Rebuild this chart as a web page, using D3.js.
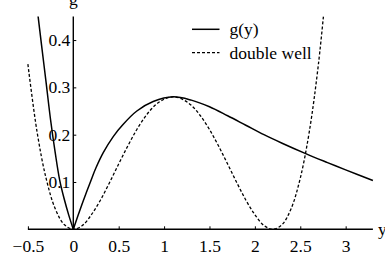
<!DOCTYPE html>
<html>
<head>
<meta charset="utf-8">
<script src="https://cdn.jsdelivr.net/npm/d3@7"></script>
<style>
  body { margin: 0; background: #fff; }
  text { font-family: "Liberation Serif", "Times New Roman", serif; font-size: 17.5px; fill: #000; }
</style>
</head>
<body>
<div class="chart-area"></div>
<script>
// g(y) (cusp at y = 0)
var gY = [-0.4, -0.35, -0.3, -0.25, -0.2, -0.15, -0.1, -0.05, 0,
          0.05, 0.1, 0.15, 0.2, 0.25, 0.33, 0.44, 0.55, 0.7, 0.88, 1.1,
          1.3, 1.5, 1.7, 1.9, 2.1, 2.3, 2.56, 2.8, 3.0, 3.3];
var gVal = [0.47, 0.39, 0.311, 0.231, 0.163, 0.104, 0.064, 0.03, 0,
            0.028, 0.055, 0.081, 0.106, 0.13, 0.162, 0.196, 0.222, 0.25, 0.27, 0.28,
            0.273, 0.259, 0.24, 0.22, 0.2, 0.182, 0.16, 0.141, 0.1255, 0.103];

// double well
var wellY = [-0.5, -0.4, -0.3, -0.2, -0.1, 0, 0.1, 0.2, 0.3, 0.4, 0.5, 0.6, 0.7, 0.8, 0.9, 1.0,
             1.1, 1.2, 1.3, 1.4, 1.5, 1.6, 1.7, 1.8, 1.9, 2.0, 2.1, 2.2, 2.3, 2.4, 2.5, 2.6, 2.7, 2.8];
var wellVal = [0.349, 0.207, 0.108, 0.044, 0.010, 0, 0.008, 0.031, 0.062, 0.099, 0.138, 0.176, 0.211, 0.240, 0.262, 0.275,
               0.280, 0.275, 0.262, 0.240, 0.211, 0.176, 0.138, 0.099, 0.062, 0.031, 0.008, 0, 0.010, 0.044, 0.108, 0.207, 0.349, 0.54];

var xTicks = [-0.5, 0, 0.5, 1, 1.5, 2, 2.5, 3],
    yTicks = [0.1, 0.2, 0.3, 0.4],
    legendLabels = ["g(y)", "double well"];

var width = 385,
    height = 263,
    x = d3.scaleLinear().domain([-0.5, 3.3]).range([27.9, 372.9]),
    y = d3.scaleLinear().domain([0, 0.45]).range([229.3, 16.4]),
    svg = d3.select(".chart-area")
            .append("svg")
            .attr("width", width)
            .attr("height", height);

svg.append("clipPath")
   .attr("id", "plot-clip")
   .append("rect")
   .attr("x", x(-0.5) - 2)
   .attr("y", y(0.45))
   .attr("width", x(3.3) - x(-0.5) + 4)
   .attr("height", y(0) - y(0.45) + 2);

var line = d3.line()
             .x(function(d) { return x(d[0]) })
             .y(function(d) { return y(d[1]) })
             .curve(d3.curveCatmullRom.alpha(0.5));

var gPts = gY.map(function(d, i) { return [d, gVal[i]] }),
    wellPts = wellY.map(function(d, i) { return [d, wellVal[i]] });

var plot = svg.append("g").attr("clip-path", "url(#plot-clip)");

// solid curve in two pieces so the cusp at 0 stays sharp
[gPts.filter(function(d) { return d[0] <= 0 }),
 gPts.filter(function(d) { return d[0] >= 0 })].forEach(function(pts) {
  plot.append("path")
      .attr("d", line(pts))
      .attr("fill", "none")
      .attr("stroke", "#000")
      .attr("stroke-width", 1.5);
});

plot.append("path")
    .attr("d", line(wellPts))
    .attr("fill", "none")
    .attr("stroke", "#000")
    .attr("stroke-width", 1.3)
    .attr("stroke-dasharray", "3,2");

// x axis
var xAxis = d3.axisBottom(x)
              .tickValues(xTicks)
              .tickSize(-3)
              .tickPadding(10)
              .tickFormat(function(d) { return d < 0 ? "\u2212" + Math.abs(d) : d });

var gx = svg.append("g")
            .attr("transform", "translate(0," + y(0) + ")")
            .call(xAxis);
gx.select(".domain").attr("d", "M" + x(-0.5) + ",0H" + x(3.3)).attr("stroke-width", 1.4);
gx.selectAll(".tick line").attr("stroke-width", 1);
gx.selectAll("text").attr("font-family", null).attr("font-size", null).attr("dy", "0.75em");

// y axis
var yAxis = d3.axisLeft(y)
              .tickValues(yTicks)
              .tickSize(-3)
              .tickPadding(3)
              .tickFormat(d3.format(".1f"));

var gy = svg.append("g")
            .attr("transform", "translate(" + x(0) + ",0)")
            .call(yAxis);
gy.select(".domain").attr("d", "M0," + y(0) + "V" + y(0.45)).attr("stroke-width", 1.4);
gy.selectAll(".tick line").attr("stroke-width", 1);
gy.selectAll("text").attr("font-family", null).attr("font-size", null);

svg.append("text")
   .attr("x", x(0))
   .attr("y", 5)
   .attr("text-anchor", "middle")
   .text("g");

svg.append("text")
   .attr("x", 378)
   .attr("y", 235)
   .text("y");

// legend
var legend = svg.selectAll(".legend")
                .data(legendLabels)
                .enter()
                .append("g")
                .attr("class", "legend")
                .attr("transform", function(d, i) { return "translate(0," + (29.3 + i * 23.4) + ")" });

legend.append("line")
      .attr("x1", 192)
      .attr("x2", 219.5)
      .attr("stroke", "#000")
      .attr("stroke-width", function(d, i) { return i ? 1.3 : 1.5 })
      .attr("stroke-dasharray", function(d, i) { return i ? "3,2" : null });

legend.append("text")
      .attr("x", 229.5)
      .attr("y", 6)
      .text(function(d) { return d });
</script>
</body>
</html>
